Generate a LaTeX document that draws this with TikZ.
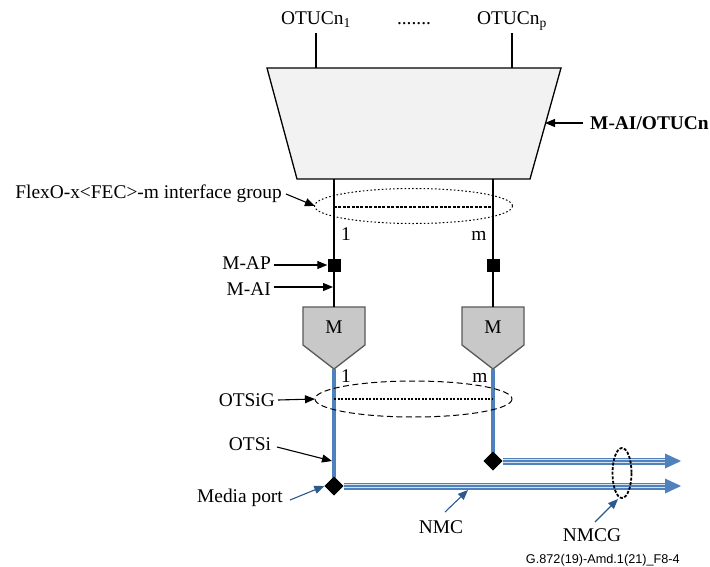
\documentclass[tikz,border=0pt]{standalone}
\usepackage{fontspec}
\setmainfont{Liberation Serif}
\newfontfamily\footfont{Liberation Sans}
\usetikzlibrary{arrows.meta,shapes.geometric}

\definecolor{otsblue}{HTML}{4F81BD}
\definecolor{stripe}{HTML}{D5E2F2}
\definecolor{ptrblue}{HTML}{2C5A8C}
\definecolor{trapfill}{HTML}{F2F2F2}
\definecolor{mfill}{HTML}{C8C8C8}
\definecolor{medge}{HTML}{595959}

\tikzset{
  lbl/.style={font=\fontsize{19.4}{22}\selectfont, inner sep=0pt},
  ptr/.style={draw=black, line width=1.1pt, -{Triangle[length=10pt,width=8pt]}},
  blueptr/.style={ptr, draw=ptrblue},
  wire/.style={draw=black, line width=1.2pt},
  och/.style={draw=otsblue, line width=3.2pt},
  apsq/.style={rectangle, fill=black, minimum size=13pt, inner sep=0pt},
  portdia/.style={diamond, fill=black, minimum width=19pt, minimum height=19pt, inner sep=0pt},
  adapt/.style={fill=mfill, draw=medge, line width=1.3pt, line join=miter},
}

% three-stripe media channel line
\newcommand{\nmcline}[2]{%
  \draw[otsblue, line width=7pt] (#1) -- (#2);
  \draw[stripe, line width=4pt] (#1) -- (#2);
  \draw[otsblue, line width=1.5pt] (#1) -- (#2);
}

\begin{document}
\begin{tikzpicture}[x=1pt,y=-1pt]
\useasboundingbox (0,0) rectangle (710,566);
\fill[white] (0,0) rectangle (710,566);

% ---- multiplexing trapezoid M-AI/OTUCn
\draw[fill=trapfill, line width=1.3pt, line join=miter]
  (267,68) -- (561,68) -- (530,179) -- (297,179) -- cycle;
\coordinate (trapR) at (545,123);

% ---- OTUCn inputs
\node[lbl, anchor=base] (otu1) at (316,24.5) {OTUCn\textsubscript{1}};
\node[lbl, anchor=base] (dots) at (414,24.5) {.......};
\node[lbl, anchor=base] (otup) at (512,24.5) {OTUCn\textsubscript{p}};
\coordinate (o1a) at (316,33);  \coordinate (o1b) at (316,68);
\coordinate (opa) at (512,33);  \coordinate (opb) at (512,68);
\draw[wire] (o1a) -- (o1b);
\draw[wire] (opa) -- (opb);

\node[lbl, anchor=base west, font=\fontsize{19.4}{22}\selectfont\bfseries] (maiotu) at (590,129.4) {M-AI/OTUCn};
\coordinate (maiotuS) at (583,123);
\draw[ptr] (maiotuS) -- (trapR);

% ---- M adaptation blocks
\draw[adapt] (303,307) -- (365,307) -- (365,345) -- (334,369) -- (303,345) -- cycle;
\draw[adapt] (462,307) -- (524,307) -- (524,345) -- (493,369) -- (462,345) -- cycle;
\node[lbl, anchor=base] (m1) at (334,333) {M};
\node[lbl, anchor=base] (m2) at (493,333) {M};

% ---- FlexO interfaces
\coordinate (f1top) at (334,179); \coordinate (f1bot) at (334,307);
\coordinate (f2top) at (493,179); \coordinate (f2bot) at (493,307);
\draw[wire] (f1top) -- (f1bot);
\draw[wire] (f2top) -- (f2bot);
\node[apsq] (ap1) at (334,265) {};
\node[apsq] (ap2) at (493,265) {};

\draw[line width=1pt, dash pattern=on 1.6pt off 2.2pt] (413.5,206) ellipse [x radius=99, y radius=17.5];
\coordinate (fg1) at (334,207); \coordinate (fg2) at (493,207);
\draw[line width=1.8pt, dash pattern=on 3pt off 1.4pt] (fg1) -- (fg2);
\node[lbl, anchor=base] (n1a) at (346,240) {1};
\node[lbl, anchor=base] (nma) at (479,240) {m};

\node[lbl, anchor=base east] (flexo) at (282,198) {FlexO-x<FEC>-m interface group};
\coordinate (flexoS) at (286,194); \coordinate (flexoT) at (315,206);
\draw[ptr] (flexoS) -- (flexoT);

\node[lbl, anchor=base east] (mapl) at (271,269.5) {M-AP};
\node[lbl, anchor=base east] (mail) at (271,295.5) {M-AI};
\coordinate (mapS) at (274,265); \coordinate (maiS) at (274,287); \coordinate (maiT) at (333,287);
\draw[ptr] (mapS) -- (ap1.west);
\draw[ptr] (maiS) -- (maiT);

% ---- OTSi and media ports
\node[portdia] (dL) at (334,486) {};
\node[portdia] (dR) at (493,461) {};
\coordinate (tipL) at (334,369); \coordinate (tipR) at (493,369);
\draw[och] (tipL) -- (dL.center);
\draw[och] (tipR) -- (dR.center);
\node[portdia] at (dL) {};
\node[portdia] at (dR) {};

\node[lbl, anchor=base] (n1b) at (346,382) {1};
\node[lbl, anchor=base] (nmb) at (480,382) {m};

\draw[line width=1pt, dash pattern=on 6pt off 3.5pt] (413.5,399) ellipse [x radius=98.5, y radius=18];
\coordinate (og1) at (334,399); \coordinate (og2) at (493,399);
\draw[line width=1.8pt, dash pattern=on 2pt off 1.5pt] (og1) -- (og2);

\node[lbl, anchor=base east] (otsig) at (275,406) {OTSiG};
\coordinate (otsigS) at (278,400); \coordinate (otsigT) at (315,399);
\draw[ptr] (otsigS) -- (otsigT);

\node[lbl, anchor=base] (otsi) at (250,450.5) {OTSi};
\coordinate (otsiS) at (277,447); \coordinate (otsiT) at (332,461);
\draw[ptr] (otsiS) -- (otsiT);

\node[lbl, anchor=base] (mport) at (240,502) {Media port};
\coordinate (mportS) at (290,500);
\draw[blueptr] (mportS) -- (dL.west);

% ---- network media channels
\coordinate (endT) at (667,461);
\coordinate (endB) at (667,486);
\nmcline{dR.east}{endT}
\nmcline{dL.east}{endB}
\fill[otsblue] (665,453.5) -- (681,461) -- (665,468.5) -- cycle;
\fill[otsblue] (665,478.5) -- (681,486) -- (665,493.5) -- cycle;

\draw[line width=1.8pt, dash pattern=on 3pt off 1.6pt] (622,473) ellipse [x radius=9.5, y radius=25];

\node[lbl, anchor=base] (nmc) at (441,533) {NMC};
\coordinate (nmcS) at (445,512); \coordinate (nmcT) at (468,490);
\draw[blueptr] (nmcS) -- (nmcT);

\node[lbl, anchor=base] (nmcg) at (592,541) {NMCG};
\coordinate (nmcgS) at (595,522); \coordinate (nmcgT) at (618,499);
\draw[blueptr] (nmcgS) -- (nmcgT);

\node[anchor=base east, inner sep=0pt, font=\footfont\fontsize{12.7}{14}\selectfont] (fig) at (680,563) {G.872(19)-Amd.1(21)\_F8-4};
\end{tikzpicture}
\end{document}
